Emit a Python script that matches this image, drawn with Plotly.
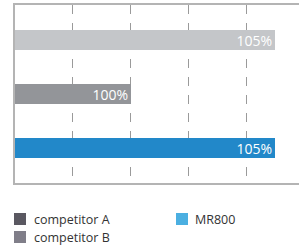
import plotly.graph_objects as go

categories = ["competitor A", "competitor B", "MR800"]
values = [105, 100, 105]
labels = ["105%", "100%", "105%"]
bar_colors = ["#c4c6c9", "#939599", "#2288c9"]

legend_names = ["competitor A", "competitor B", "MR800"]
legend_colors = ["#5a5861", "#807e89", "#4bafe1"]

W, H = 299, 247
L, R, T, B = 15, 0, 5, 64
pw, ph = W - L - R, H - T - B

def px(x):
    return (x - L) / pw

def py(y):
    return (H - B - y) / ph

fig = go.Figure()
fig.add_trace(go.Bar(
    y=categories, x=values, orientation="h",
    marker=dict(color=bar_colors, line=dict(width=0)),
    text=labels, textposition="inside", insidetextanchor="end",
    constraintext="none",
    textfont=dict(color="white", size=14, family="Open Sans"),
    width=0.37, showlegend=False, hoverinfo="skip",
))

fig.update_xaxes(range=[96, 105.83], dtick=2, tick0=96, showticklabels=False,
                 showgrid=True, gridcolor="#9a9a9a", griddash="dash", gridwidth=1,
                 showline=True, linecolor="#b4b4b4", linewidth=1.5, mirror=True,
                 zeroline=False, ticks="")
fig.update_yaxes(range=[2.65, -0.65], showticklabels=False, showgrid=False,
                 showline=True, linecolor="#b4b4b4", linewidth=1.5,
                 zeroline=False, ticks="")

# custom legend
legend_pos = [(14, 213, 32, 219.5), (14, 231, 32, 237.5), (176, 213, 193, 219.5)]
for name, col, (sx, sy, tx, ty) in zip(legend_names, legend_colors, legend_pos):
    fig.add_shape(type="rect", xref="paper", yref="paper",
                  x0=px(sx), x1=px(sx + 12), y0=py(sy), y1=py(sy + 12),
                  fillcolor=col, line=dict(width=0))
    fig.add_annotation(x=px(tx), y=py(ty), xref="paper", yref="paper",
                       text=name, showarrow=False, xanchor="left", yanchor="middle",
                       font=dict(size=12.5, color="#333333", family="Open Sans"))

fig.update_layout(width=W, height=H, margin=dict(l=L, r=R, t=T, b=B),
                  plot_bgcolor="white", paper_bgcolor="white", bargap=0)
fig.write_html("out.html", config={"displayModeBar": False},
               post_script="document.body.style.margin='0';document.body.style.overflow='hidden';")
